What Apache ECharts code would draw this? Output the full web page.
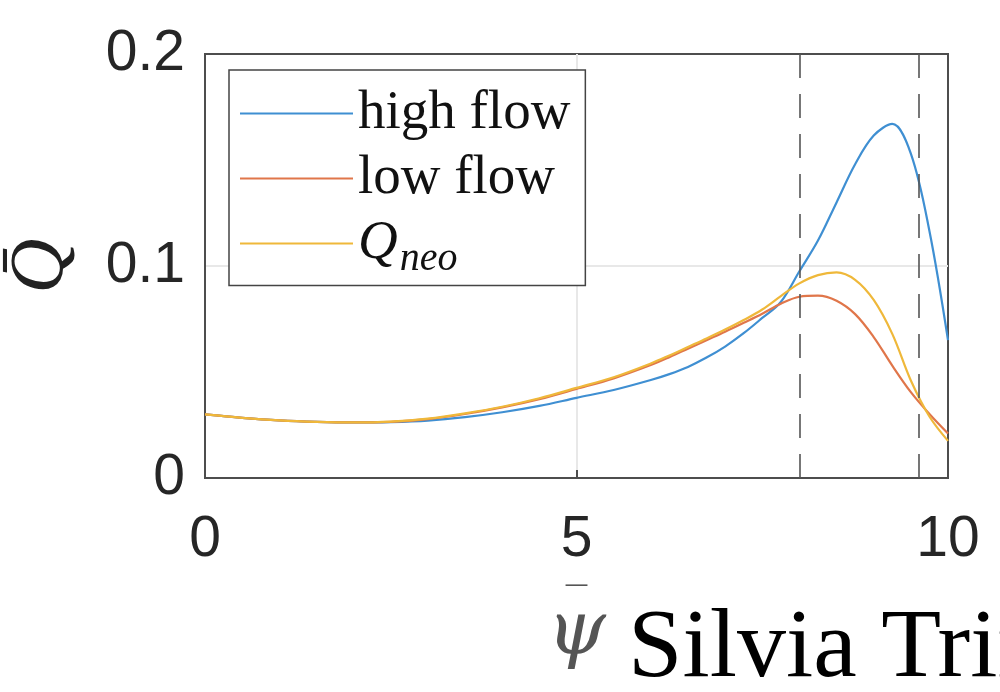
<!DOCTYPE html>
<html>
<head>
<meta charset="utf-8">
<script src="https://cdn.jsdelivr.net/npm/echarts@6/dist/echarts.min.js"></script>
<style>html,body{margin:0;padding:0;background:#fff}#c{width:1000px;height:692px}</style>
</head>
<body>
<div id="c"></div>
<script>
// ---- data ----
const psi      = [0,0.5,1,1.5,2,2.5,3,3.5,4,4.5,5,5.5,6,6.25,6.5,6.75,7,7.25,7.5,7.75,8,8.25,8.5,8.75,9,9.25,9.5,9.75,10];
const highFlow = [0.0300,0.0284,0.0272,0.0265,0.0262,0.0264,0.0271,0.0287,0.0310,0.0340,0.0378,0.0415,0.0462,0.0490,0.0524,0.0568,0.0620,0.0683,0.0755,0.0830,0.0975,0.1120,0.1300,0.1480,0.1615,0.1670,0.1530,0.1165,0.0650];
const lowFlow  = [0.0300,0.0284,0.0272,0.0265,0.0262,0.0265,0.0278,0.0302,0.0333,0.0372,0.0420,0.0470,0.0533,0.0570,0.0610,0.0650,0.0690,0.0732,0.0775,0.0822,0.0855,0.0860,0.0836,0.0773,0.0665,0.0530,0.0405,0.0302,0.0210];
const qNeo     = [0.0300,0.0284,0.0272,0.0265,0.0262,0.0266,0.0280,0.0305,0.0336,0.0376,0.0425,0.0475,0.0540,0.0578,0.0618,0.0658,0.0700,0.0745,0.0795,0.0858,0.0918,0.0957,0.0970,0.0935,0.0840,0.0680,0.0460,0.0290,0.0175];
const dashedPsi = [8.0, 9.6];
const seriesNames = ['high flow', 'low flow', 'Qneo'];
const xLabel = '{m|\u2014}\n{p|\u03c8}';
const yLabel = 'Q\u0304';
const author = 'Silvia Trinczek';

const colors = ['#3f8fd2', '#e0764a', '#efb83a'];
const pair = (ys) => psi.map((x, i) => [x, ys[i]]);

const chart = echarts.init(document.getElementById('c'));
const frame = '#4d4d4d';
const axisLine = { show: true, lineStyle: { color: frame, width: 2 } };
const tickFont = { fontFamily: 'Liberation Sans, Arial, sans-serif', fontSize: 57, color: '#262626' };
const split = { show: true, showMinLine: false, showMaxLine: false, lineStyle: { color: '#e8e8e8', width: 2 } };

chart.setOption({
  animation: false,
  color: colors,
  grid: { left: 205, right: 52, top: 54, bottom: 214, containLabel: false, outerBoundsMode: 'none',
          show: true, borderColor: frame, borderWidth: 2, backgroundColor: 'transparent' },
  legend: {
    orient: 'vertical', left: 229, top: 70,
    padding: [16, 15, 6, 11],
    itemWidth: 113, itemHeight: 2, itemGap: 10,
    icon: 'rect',
    borderColor: '#444', borderWidth: 1.5, backgroundColor: '#fff',
    data: seriesNames,
    formatter: n => n === 'Qneo' ? '{q|Q}{s|neo}' : n,
    textStyle: {
      fontFamily: 'Liberation Serif, serif', fontSize: 55, lineHeight: 52, color: '#111',
      rich: {
        q: { fontFamily: 'Liberation Serif, serif', fontStyle: 'italic', fontSize: 55, color: '#111' },
        s: { fontFamily: 'Liberation Serif, serif', fontStyle: 'italic', fontSize: 40, color: '#111', padding: [32, 0, 0, 2] }
      }
    }
  },
  xAxis: {
    type: 'value', min: 0, max: 10, interval: 5, position: 'bottom',
    axisLine,
    axisTick: { show: true, inside: true, length: 8, lineStyle: { color: frame, width: 2 } },
    axisLabel: Object.assign({ margin: 34 }, tickFont),
    splitLine: split,
    name: xLabel, nameLocation: 'middle', nameGap: 66,
    nameTextStyle: {
      rich: {
        m: { fontFamily: 'DejaVu Serif, serif', fontSize: 24, lineHeight: 46, color: '#555', align: 'center' },
        p: { fontFamily: 'DejaVu Serif, serif', fontStyle: 'italic', fontSize: 75, lineHeight: 50, color: '#555', align: 'center' }
      }
    }
  },
  yAxis: {
    type: 'value', min: 0, max: 0.2, interval: 0.1, position: 'left',
    axisLine, axisTick: { show: false },
    axisLabel: Object.assign({ margin: 20, padding: [7, 0, 0, 0] }, tickFont),
    splitLine: split,
    name: yLabel, nameLocation: 'middle', nameGap: 125, nameRotate: 90,
    nameTextStyle: { fontFamily: 'Liberation Serif, serif', fontStyle: 'italic', fontSize: 76, color: '#222' }
  },
  series: [
    { name: seriesNames[0], type: 'line', data: pair(highFlow), smooth: 0.35, showSymbol: false, symbol: 'none',
      lineStyle: { width: 2.2, color: colors[0] }, z: 3,
      markLine: { silent: true, symbol: 'none', label: { show: false },
        lineStyle: { type: [24, 16], color: '#555', width: 1.6 },
        data: dashedPsi.map(v => ({ xAxis: v })) } },
    { name: seriesNames[1], type: 'line', data: pair(lowFlow), smooth: 0.35, showSymbol: false, symbol: 'none',
      lineStyle: { width: 2.2, color: colors[1] }, z: 3 },
    { name: seriesNames[2], type: 'line', data: pair(qNeo), smooth: 0.35, showSymbol: false, symbol: 'none',
      lineStyle: { width: 2.2, color: colors[2] }, z: 3 }
  ],
  graphic: [{
    type: 'text', left: 628, top: 601, z: 10,
    style: { text: author, font: '98px "Liberation Serif", serif', fill: '#000' }
  }]
});
</script>
</body>
</html>
